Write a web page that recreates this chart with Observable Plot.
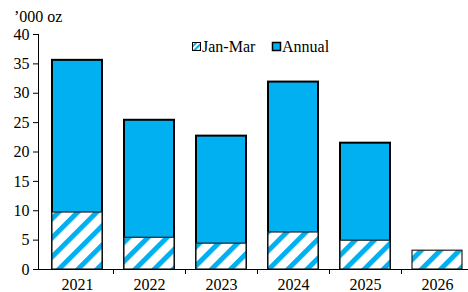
<!DOCTYPE html>
<html><head><meta charset="utf-8">
<script src="https://cdn.jsdelivr.net/npm/d3@7"></script>
<script src="https://cdn.jsdelivr.net/npm/@observablehq/plot@0.6"></script>
<style>
html,body{margin:0;padding:0;background:#fff;}
#chart{position:relative;width:468px;height:292px;}
#chart svg, #chart svg text { font-family: "Liberation Serif", "Times New Roman", Times, serif !important; }
</style></head>
<body><div id="chart"></div>
<script>
const years = ["2021","2022","2023","2024","2025","2026"];
const annual = [35.6, 25.4, 22.7, 31.9, 21.5, null];
const janMar = [9.7, 5.4, 4.4, 6.3, 4.9, 3.2];
const yTicks = [0,5,10,15,20,25,30,35,40];
const unitLabel = "’000 oz";
const legendLabels = ["Jan-Mar", "Annual"];

const blue = "#00B0F0";

const annualData = years.map((y,i)=>({year:y, v:annual[i]})).filter(d=>d.v!=null);
const qData = years.map((y,i)=>({year:y, v:janMar[i]}));

const plot = Plot.plot({
  width: 468, height: 292,
  marginTop: 34, marginBottom: 23, marginLeft: 38, marginRight: 0,
  style: {fontSize: "16px", color: "#000", background: "#fff", overflow: "visible"},
  x: {domain: years, range: [38.5, 474.2], paddingInner: 0.31, paddingOuter: 0.16, label: null},
  y: {domain: [0, 40], ticks: yTicks, label: null},
  marks: [
    Plot.barY(annualData, {x: "year", y1: 0, y2: "v", fill: blue, stroke: "#000", strokeWidth: 2}),
    Plot.barY(qData, {x: "year", y1: 0, y2: "v", fill: "url(#hatch)", stroke: "#222", strokeWidth: 1.2}),
    Plot.axisY({ticks: yTicks, tickSize: 5, tickPadding: 4, fontSize: 16, tickFormat: d=>d}),
    Plot.axisX({tickSize: 0, tickPadding: 9, fontSize: 16}),
  ]
});
document.getElementById("chart").appendChild(plot);

const svg = d3.select(plot);
const defs = svg.insert("defs", ":first-child");
const P = 13.5;
const pat = defs.append("pattern").attr("id","hatch").attr("patternUnits","userSpaceOnUse")
  .attr("width", P).attr("height", P).attr("patternTransform","rotate(45)");
pat.append("rect").attr("width",P).attr("height",P).attr("fill","#fff");
pat.append("rect").attr("x",0).attr("width",5).attr("height",P).attr("fill",blue);

const xs = plot.scale("x"), ys = plot.scale("y");
const y0 = ys.apply(0), yTop = ys.apply(40);
const g = svg.append("g").attr("stroke","#000").attr("stroke-width",1);
g.append("line").attr("x1",38.5).attr("x2",38.5).attr("y1",yTop).attr("y2",y0);
g.append("line").attr("x1",38).attr("x2",468).attr("y1",y0+0.5).attr("y2",y0+0.5);
const step = xs.step;
years.slice(1).forEach(y=>{
  const bx = Math.round(xs.apply(y) - (step - xs.bandwidth)/2) + 0.5;
  g.append("line").attr("x1",bx).attr("x2",bx).attr("y1",y0).attr("y2",y0+5);
});
svg.append("text").attr("x",14).attr("y",22).attr("text-anchor","start")
  .attr("font-size",16).text(unitLabel);
const lg = svg.append("g").attr("font-size",16).attr("text-anchor","start");
const pat2 = defs.append("pattern").attr("id","hatchL").attr("patternUnits","userSpaceOnUse")
  .attr("width", 4).attr("height", 4).attr("patternTransform","rotate(45)");
pat2.append("rect").attr("width",4).attr("height",4).attr("fill","#fff");
pat2.append("rect").attr("width",2).attr("height",4).attr("fill",blue);
lg.append("rect").attr("x",192.5).attr("y",42.5).attr("width",8).attr("height",8).attr("fill","url(#hatchL)").attr("stroke","#000");
lg.append("text").attr("x",202).attr("y",52).text(legendLabels[0]);
lg.append("rect").attr("x",272.5).attr("y",42.5).attr("width",8).attr("height",8).attr("fill",blue).attr("stroke","#000").attr("stroke-width",1.5);
lg.append("text").attr("x",282).attr("y",52).text(legendLabels[1]);
</script></body></html>
